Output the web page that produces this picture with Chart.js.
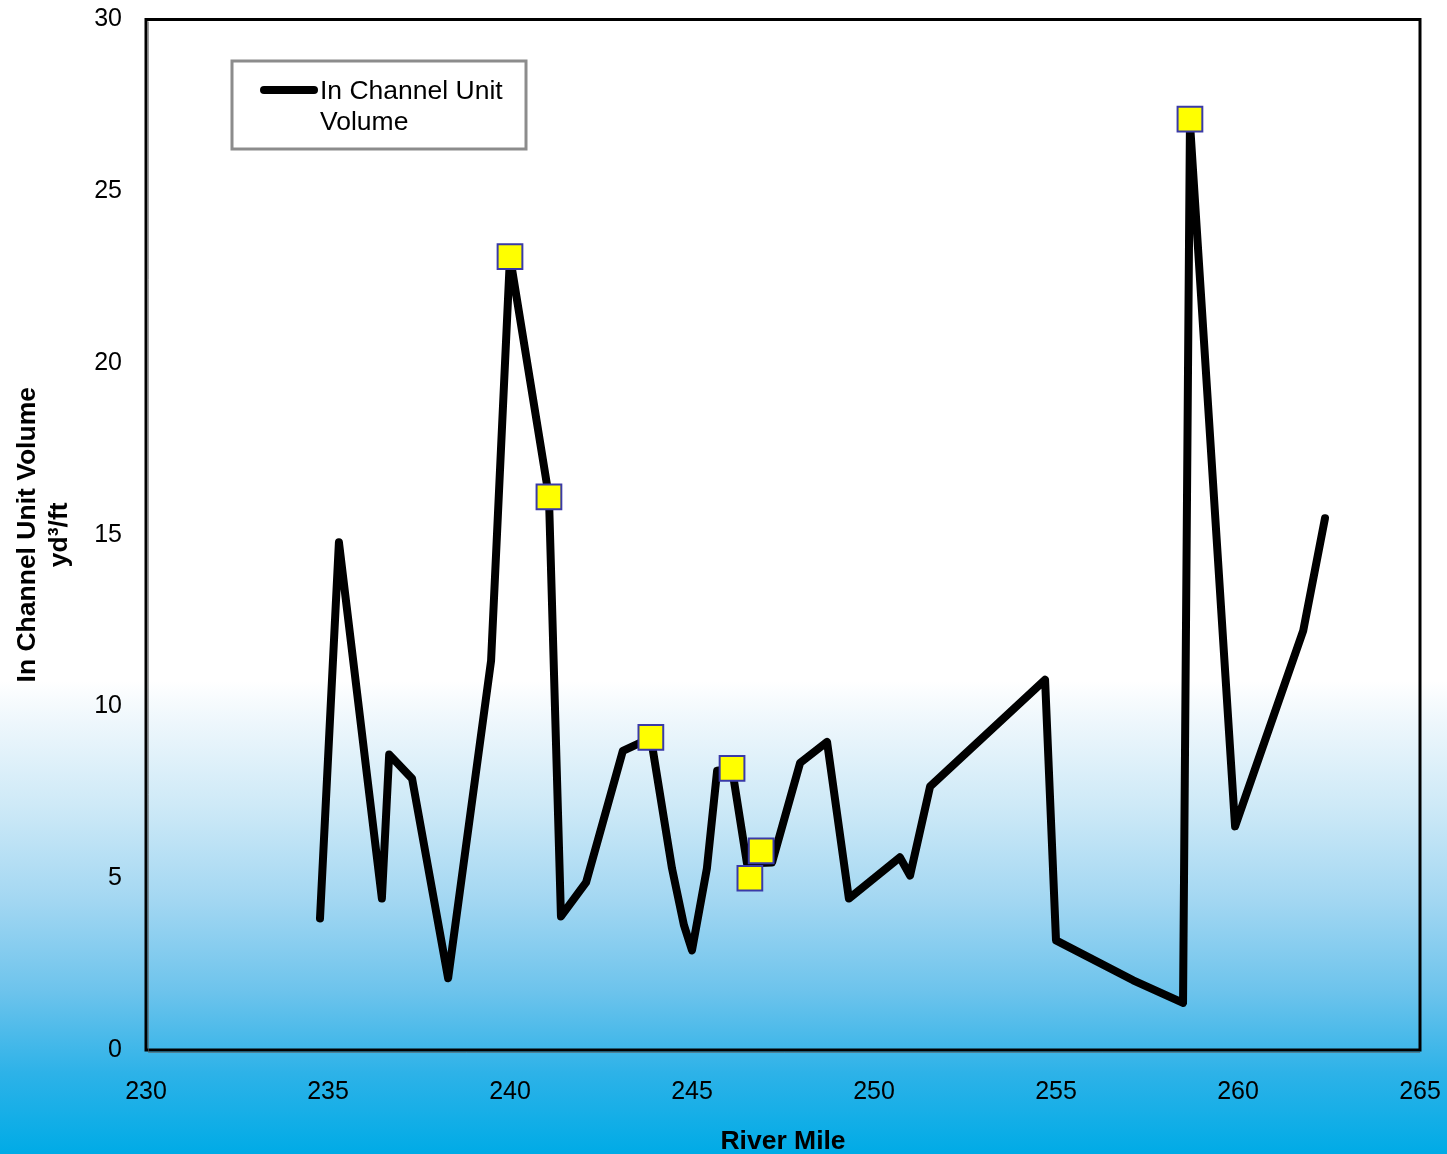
<!DOCTYPE html>
<html>
<head>
<meta charset="utf-8">
<script src="https://cdn.jsdelivr.net/npm/chart.js@4.4.1/dist/chart.umd.min.js"></script>
<style>
  html, body { margin: 0; padding: 0; background: #ffffff; }
  #wrap { width: 1447px; height: 1154px; }
</style>
</head>
<body>
<div id="wrap"><canvas id="c" width="1447" height="1154"></canvas></div>
<script>
// River mile vs. in-channel unit volume (yd³/ft)
const riverMile = [234.78, 235.30, 236.48, 236.68, 237.31, 238.30, 239.48, 240.00, 241.07, 241.40,
                   242.09, 243.10, 243.87, 244.45, 244.78, 245.00, 245.41, 245.69, 246.10, 246.51,
                   247.20, 247.97, 248.71, 249.31, 250.71, 250.99, 251.54, 254.70, 255.00, 257.12,
                   258.49, 258.68, 259.92, 261.79, 262.39];
const unitVolume = [3.83, 14.78, 4.41, 8.60, 7.90, 2.09, 11.33, 23.1, 16.1, 3.89,
                    4.88, 8.71, 9.09, 5.29, 3.63, 2.90, 5.29, 8.13, 8.19, 5.43,
                    5.46, 8.36, 8.97, 4.41, 5.61, 5.08, 7.67, 10.78, 3.19, 2.03,
                    1.37, 27.0, 6.51, 12.2, 15.48];

// Highlighted sites
const siteMile = [240.00, 241.07, 243.87, 246.10, 246.59, 246.90, 258.68];
const siteVolume = [23.1, 16.1, 9.1, 8.2, 5.0, 5.8, 27.1];

const xTicks = [230, 235, 240, 245, 250, 255, 260, 265];
const yTicks = [0, 5, 10, 15, 20, 25, 30];

const seriesLabel = ['In Channel Unit', 'Volume'];
const xTitle = 'River Mile';
const yTitle = ['In Channel Unit Volume', 'yd\u00B3/ft'];

const FONT = '"Liberation Sans", Arial, sans-serif';

const backdrop = {
  id: 'backdrop',
  beforeDraw(chart) {
    const { ctx, width, height } = chart;
    const g = ctx.createLinearGradient(0, 0, 0, height);
    g.addColorStop(0.00, '#ffffff');
    g.addColorStop(0.590, '#ffffff');
    g.addColorStop(0.625, '#eef7fc');
    g.addColorStop(0.70, '#cde9f7');
    g.addColorStop(0.78, '#a3d7f2');
    g.addColorStop(0.86, '#6cc3ec');
    g.addColorStop(0.93, '#2db2e8');
    g.addColorStop(1.00, '#00abe6');
    ctx.save();
    ctx.fillStyle = g;
    ctx.fillRect(0, 0, width, height);
    ctx.restore();
  }
};

const frameAndKey = {
  id: 'frameAndKey',
  afterDraw(chart) {
    const { ctx, chartArea: a } = chart;
    ctx.save();
    // plot frame
    ctx.strokeStyle = '#000000';
    ctx.lineWidth = 3;
    ctx.strokeRect(a.left, a.top, a.right - a.left, a.bottom - a.top);
    ctx.strokeStyle = 'rgba(90,90,90,0.6)';
    ctx.lineWidth = 1;
    ctx.beginPath();
    ctx.moveTo(a.left + 2.5, a.top + 2);
    ctx.lineTo(a.left + 2.5, a.bottom + 2.5);
    ctx.lineTo(a.right, a.bottom + 2.5);
    ctx.stroke();

    // key box
    const bx = 232, by = 61, bw = 294, bh = 88;
    ctx.fillStyle = '#ffffff';
    ctx.fillRect(bx, by, bw, bh);
    ctx.strokeStyle = '#8c8c8c';
    ctx.lineWidth = 3;
    ctx.strokeRect(bx, by, bw, bh);

    const ds = chart.data.datasets[1];
    ctx.strokeStyle = ds.borderColor;
    ctx.lineWidth = ds.borderWidth;
    ctx.lineCap = 'round';
    ctx.beginPath();
    ctx.moveTo(264, 90);
    ctx.lineTo(314, 90);
    ctx.stroke();

    ctx.fillStyle = '#000000';
    ctx.font = '26.5px ' + FONT;
    ctx.textBaseline = 'middle';
    ctx.textAlign = 'left';
    seriesLabel.forEach((t, i) => ctx.fillText(t, 320, 92 + i * 31));
    ctx.restore();
  }
};

new Chart(document.getElementById('c'), {
  type: 'scatter',
  data: {
    datasets: [
      {
        label: 'Sites',
        data: siteMile.map((m, i) => ({ x: m, y: siteVolume[i] })),
        showLine: false,
        pointStyle: 'rect',
        pointRadius: 17.5,
        pointHoverRadius: 17.5,
        pointBackgroundColor: '#ffff00',
        pointBorderColor: '#3a3aa8',
        pointBorderWidth: 2
      },
      {
        label: seriesLabel.join(' '),
        data: riverMile.map((m, i) => ({ x: m, y: unitVolume[i] })),
        showLine: true,
        borderColor: '#000000',
        borderWidth: 8,
        borderJoinStyle: 'round',
        borderCapStyle: 'round',
        pointRadius: 0,
        pointHoverRadius: 0,
        tension: 0
      }
    ]
  },
  plugins: [backdrop, frameAndKey],
  options: {
    responsive: false,
    animation: false,
    events: [],
    layout: { padding: { top: 17, right: 27, left: 0, bottom: 0 } },
    plugins: { legend: { display: false }, tooltip: { enabled: false } },
    scales: {
      x: {
        type: 'linear',
        min: 230, max: 265,
        afterBuildTicks(scale) { scale.ticks = xTicks.map(v => ({ value: v })); },
        afterFit(scale) {
          scale.height = 104;
          scale.paddingLeft = 0; scale.paddingRight = 0;
        },
        grid: { display: false, drawTicks: false },
        border: { display: false },
        ticks: {
          padding: 27,
          color: '#000000',
          font: { family: FONT, size: 25 },
          maxRotation: 0
        },
        title: {
          display: true,
          text: xTitle,
          color: '#000000',
          font: { family: FONT, size: 26.5, weight: 'bold', lineHeight: '24px' },
          padding: { top: 0, bottom: 0 }
        }
      },
      y: {
        type: 'linear',
        min: 0, max: 30,
        afterBuildTicks(scale) { scale.ticks = yTicks.map(v => ({ value: v })); },
        afterFit(scale) {
          scale.width = 146;
          scale.paddingTop = 0; scale.paddingBottom = 0;
        },
        grid: { display: false, drawTicks: false },
        border: { display: false },
        ticks: {
          padding: 24,
          color: '#000000',
          font: { family: FONT, size: 25 }
        },
        title: {
          display: true,
          text: yTitle,
          color: '#000000',
          font: { family: FONT, size: 26.5, weight: 'bold', lineHeight: '32px' },
          padding: { top: 12, bottom: 0 }
        }
      }
    }
  }
});
</script>
</body>
</html>
